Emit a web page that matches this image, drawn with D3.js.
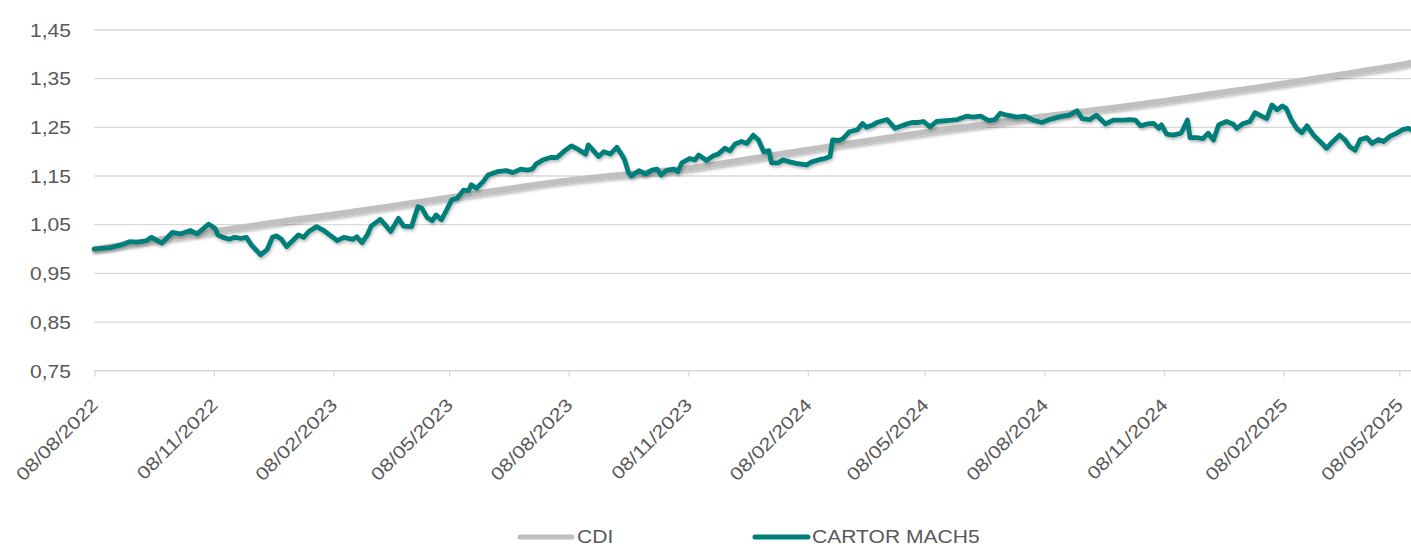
<!DOCTYPE html>
<html><head><meta charset="utf-8">
<script src="https://cdn.jsdelivr.net/npm/d3@7/dist/d3.min.js"></script>
<style>
html,body{margin:0;padding:0;background:#fff;}
svg{display:block;}
text{font-family:"Liberation Sans",Arial,sans-serif;}
</style>
</head><body>
<svg id="chart" width="1411" height="546"></svg>
<script>
// ---------- DATA ----------
const xDomain = ["2022-08-08", "2025-05-17"];
const yTicks = [0.75, 0.85, 0.95, 1.05, 1.15, 1.25, 1.35, 1.45];
const xTickDates = ["2022-08-08","2022-11-08","2023-02-08","2023-05-08","2023-08-08","2023-11-08",
  "2024-02-08","2024-05-08","2024-08-08","2024-11-08","2025-02-08","2025-05-08"];
const xTickLabels = ["08/08/2022","08/11/2022","08/02/2023","08/05/2023","08/08/2023","08/11/2023",
  "08/02/2024","08/05/2024","08/08/2024","08/11/2024","08/02/2025","08/05/2025"];
const seriesNames = ["CDI", "CARTOR MACH5"];

const cdiDates = ["2022-08-08","2022-09-08","2022-10-08","2022-11-08","2022-12-08","2023-01-08","2023-02-08",
  "2023-03-08","2023-04-08","2023-05-08","2023-06-08","2023-07-08","2023-08-08","2023-09-08","2023-10-08",
  "2023-11-08","2023-12-08","2024-01-08","2024-02-08","2024-03-08","2024-04-08","2024-05-08","2024-06-08",
  "2024-07-08","2024-08-08","2024-09-08","2024-10-08","2024-11-08","2024-12-08","2025-01-08","2025-02-08",
  "2025-03-08","2025-04-08","2025-05-08","2025-05-17"];
const cdiValues = [1.000,1.012,1.024,1.036,1.048,1.060,1.071,1.082,1.094,1.106,1.118,1.130,1.141,1.150,1.158,
  1.166,1.178,1.191,1.204,1.216,1.228,1.240,1.251,1.262,1.273,1.283,1.293,1.304,1.316,1.328,1.340,
  1.352,1.365,1.378,1.383];

const fundDates = [
  "2022-08-08","2022-08-20","2022-08-28","2022-09-04","2022-09-10","2022-09-17","2022-09-21","2022-09-29",
  "2022-10-07","2022-10-13","2022-10-21","2022-10-26","2022-11-04","2022-11-09","2022-11-11","2022-11-15",
  "2022-11-20","2022-11-24","2022-11-29","2022-12-03","2022-12-07","2022-12-14","2022-12-19","2022-12-23",
  "2022-12-26","2022-12-30","2023-01-03","2023-01-08","2023-01-12","2023-01-16","2023-01-20","2023-01-26",
  "2023-01-31","2023-02-05","2023-02-11","2023-02-16","2023-02-23","2023-02-26","2023-03-02","2023-03-06",
  "2023-03-09","2023-03-16","2023-03-20","2023-03-24","2023-03-30","2023-04-03","2023-04-09","2023-04-14",
  "2023-04-17","2023-04-21","2023-04-25","2023-04-28","2023-05-02","2023-05-06","2023-05-10","2023-05-14",
  "2023-05-19","2023-05-23","2023-05-25","2023-05-29","2023-06-03","2023-06-07","2023-06-14","2023-06-21",
  "2023-06-26","2023-07-02","2023-07-07","2023-07-11","2023-07-14","2023-07-20","2023-07-25","2023-07-30",
  "2023-08-04","2023-08-10","2023-08-15","2023-08-21","2023-08-23","2023-08-27","2023-08-31","2023-09-04",
  "2023-09-09","2023-09-14","2023-09-18","2023-09-20","2023-09-23","2023-09-25","2023-10-01","2023-10-06",
  "2023-10-11","2023-10-15","2023-10-18","2023-10-22","2023-10-28","2023-10-31","2023-11-03","2023-11-09",
  "2023-11-13","2023-11-16","2023-11-22","2023-11-27","2023-12-01","2023-12-06","2023-12-10","2023-12-14",
  "2023-12-19","2023-12-23","2023-12-28","2024-01-01","2024-01-05","2024-01-09","2024-01-11","2024-01-16",
  "2024-01-20","2024-01-25","2024-01-30","2024-02-07","2024-02-11","2024-02-16","2024-02-21","2024-02-25",
  "2024-02-27","2024-03-03","2024-03-06","2024-03-11","2024-03-17","2024-03-21","2024-03-24","2024-03-29",
  "2024-04-01","2024-04-09","2024-04-15","2024-04-22","2024-04-28","2024-05-03","2024-05-07","2024-05-12",
  "2024-05-17","2024-05-25","2024-06-02","2024-06-09","2024-06-14","2024-06-20","2024-06-26","2024-07-01",
  "2024-07-05","2024-07-10","2024-07-18","2024-07-24","2024-07-31","2024-08-06","2024-08-12","2024-08-20",
  "2024-08-27","2024-09-02","2024-09-06","2024-09-12","2024-09-17","2024-09-24","2024-09-30","2024-10-08",
  "2024-10-13","2024-10-17","2024-10-21","2024-10-26","2024-10-31","2024-11-04","2024-11-06","2024-11-10",
  "2024-11-15","2024-11-21","2024-11-23","2024-11-26","2024-11-28","2024-12-03","2024-12-08","2024-12-12",
  "2024-12-16","2024-12-20","2024-12-26","2024-12-31","2025-01-03","2025-01-08","2025-01-13","2025-01-17",
  "2025-01-22","2025-01-26","2025-01-30","2025-02-03","2025-02-07","2025-02-10","2025-02-14","2025-02-18",
  "2025-02-22","2025-02-26","2025-03-03","2025-03-08","2025-03-13","2025-03-18","2025-03-23","2025-03-27",
  "2025-03-31","2025-04-04","2025-04-08","2025-04-13","2025-04-17","2025-04-22","2025-04-26","2025-05-01",
  "2025-05-06","2025-05-11","2025-05-15","2025-05-17"];
const fundValues = [
  1.000,1.003,1.008,1.015,1.014,1.017,1.024,1.012,
  1.034,1.031,1.038,1.031,1.051,1.042,1.029,1.024,
  1.020,1.024,1.022,1.024,1.008,0.988,0.999,1.024,
  1.027,1.020,1.005,1.018,1.029,1.024,1.036,1.046,
  1.039,1.029,1.017,1.024,1.020,1.025,1.013,1.029,
  1.047,1.061,1.049,1.036,1.063,1.047,1.046,1.087,
  1.084,1.065,1.058,1.070,1.060,1.080,1.101,1.104,
  1.121,1.120,1.132,1.125,1.138,1.152,1.159,1.161,
  1.157,1.164,1.162,1.164,1.175,1.184,1.188,1.188,
  1.200,1.212,1.205,1.195,1.214,1.202,1.190,1.200,
  1.195,1.209,1.193,1.183,1.157,1.150,1.161,1.154,
  1.162,1.164,1.152,1.161,1.164,1.159,1.177,1.186,
  1.183,1.193,1.182,1.191,1.195,1.207,1.202,1.216,
  1.221,1.217,1.234,1.224,1.200,1.202,1.177,1.177,
  1.183,1.179,1.176,1.173,1.179,1.183,1.186,1.190,
  1.224,1.223,1.227,1.241,1.245,1.258,1.250,1.255,
  1.260,1.266,1.248,1.255,1.260,1.260,1.262,1.251,
  1.262,1.264,1.266,1.273,1.271,1.273,1.264,1.266,
  1.279,1.275,1.271,1.273,1.264,1.260,1.266,1.272,
  1.275,1.284,1.268,1.266,1.275,1.257,1.265,1.265,
  1.266,1.265,1.253,1.257,1.258,1.248,1.255,1.236,
  1.234,1.238,1.248,1.265,1.229,1.229,1.227,1.238,
  1.224,1.255,1.262,1.257,1.248,1.258,1.262,1.280,
  1.273,1.268,1.296,1.286,1.294,1.289,1.265,1.248,
  1.239,1.253,1.234,1.221,1.207,1.221,1.234,1.225,
  1.210,1.203,1.225,1.229,1.217,1.225,1.221,1.232,
  1.238,1.246,1.248,1.245];

// ---------- CHART ----------
const parse = d3.timeParse("%Y-%m-%d");
const plot = {left: 94.3, right: 1411, top: 30, bottom: 370.7};
const svg = d3.select("#chart");
const x = d3.scaleTime().domain(xDomain.map(parse)).range([plot.left, plot.right]);
const y = d3.scaleLinear().domain([0.75, 1.45]).range([plot.bottom, plot.top]);
const loc = d3.formatLocale({decimal: ",", thousands: ".", grouping: [3], currency: ["R$", ""]});
const fmt = loc.format(".2f");
const textColor = "#595959";
const gridColor = "#d9d9d9";

const defs = svg.append("defs");
const f = defs.append("filter").attr("id", "shadow").attr("x", "-5%").attr("y", "-20%").attr("width", "110%").attr("height", "140%");
f.append("feDropShadow").attr("dx", 1).attr("dy", 2).attr("stdDeviation", 1.6)
  .attr("flood-color", "#000").attr("flood-opacity", 0.28);

// gridlines
svg.append("g").selectAll("line").data(yTicks.slice(1)).join("line")
  .attr("x1", plot.left).attr("x2", plot.right)
  .attr("y1", d => y(d)).attr("y2", d => y(d))
  .attr("stroke", gridColor).attr("stroke-width", 1.3);

// y axis labels
const yAxis = svg.append("g").attr("transform", `translate(71,0)`)
  .call(d3.axisLeft(y).tickValues(yTicks).tickSize(0).tickPadding(0).tickFormat(d => fmt(d)));
yAxis.select(".domain").remove();
yAxis.selectAll("text")
  .attr("x", null).attr("dy", "0.35em")
  .attr("transform", "scale(1.17,1)")
  .style("font-size", "18px").attr("fill", textColor).attr("text-anchor", "end");

// x axis
const xAxis = svg.append("g").attr("transform", `translate(0,${plot.bottom})`)
  .call(d3.axisBottom(x).tickValues(xTickDates.map(parse)).tickSize(6).tickSizeOuter(0)
    .tickFormat((d, i) => xTickLabels[i]));
xAxis.select(".domain").attr("stroke", gridColor).attr("stroke-width", 1.6)
  .attr("d", `M${plot.left},0H${plot.right}`);
xAxis.selectAll(".tick line").attr("stroke", gridColor).attr("stroke-width", 1.3);
xAxis.selectAll(".tick text")
  .attr("y", null).attr("dy", "0.35em")
  .attr("transform", "translate(0,31) rotate(-45) scale(1.19,1)")
  .attr("text-anchor", "end")
  .style("font-size", "18px").attr("fill", textColor);

// lines
const cdiData = cdiDates.map((d, i) => ({date: parse(d), v: cdiValues[i]}));
const fundData = fundDates.map((d, i) => ({date: parse(d), v: fundValues[i]}));

svg.append("path").datum(cdiData)
  .attr("fill", "none").attr("stroke", "#c0c0c0").attr("stroke-width", 6)
  .attr("stroke-linejoin", "round").attr("stroke-linecap", "round")
  .attr("filter", "url(#shadow)")
  .attr("d", d3.line().x(d => x(d.date)).y(d => y(d.v)).curve(d3.curveMonotoneX));

svg.append("path").datum(fundData)
  .attr("fill", "none").attr("stroke", "#007f7a").attr("stroke-width", 4.8)
  .attr("stroke-linejoin", "round").attr("stroke-linecap", "round")
  .attr("filter", "url(#shadow)")
  .attr("d", d3.line().x(d => x(d.date)).y(d => y(d.v)));

// legend
const legendItems = [
  {name: seriesNames[0], color: "#bfbfbf", x1: 520, x2: 572, tx: 577},
  {name: seriesNames[1], color: "#007f7a", x1: 755, x2: 808, tx: 812}
];
const lg = svg.append("g").attr("transform", "translate(0,537)");
lg.selectAll("line").data(legendItems).join("line")
  .attr("x1", d => d.x1).attr("x2", d => d.x2).attr("y1", 0).attr("y2", 0)
  .attr("stroke", d => d.color).attr("stroke-width", 5).attr("stroke-linecap", "round");
lg.selectAll("text").data(legendItems).join("text")
  .attr("transform", d => `translate(${d.tx},0) scale(1.17,1)`)
  .attr("dy", "0.35em").style("font-size", "18px").attr("fill", textColor)
  .text(d => d.name);
</script>
</body></html>
